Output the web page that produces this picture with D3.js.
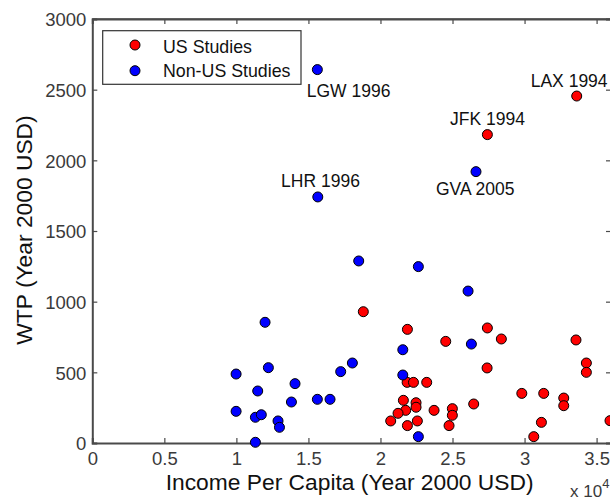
<!DOCTYPE html>
<html>
<head>
<meta charset="utf-8">
<script src="https://cdn.jsdelivr.net/npm/d3@7"></script>
<style>
body { margin: 0; background: #fff; }
text { font-family: "Liberation Sans", Arial, sans-serif; }
</style>
</head>
<body>
<svg width="610" height="500"></svg>
<script>
// US studies: income per capita (USD 2000) and WTP
const usIncome = [18810, 21870, 27420, 28390, 24530, 33570, 34290, 34290, 27400,
  21850, 22290, 23210, 21590, 22470, 22470, 21750, 21220, 20710, 21870, 22560,
  23720, 24990, 24990, 24760, 26470, 29810, 31330, 32720, 32720, 31170, 30640,
  35930, 27420, 33620];
const usWTP = [929, 804, 814, 736, 719, 729, 566, 500, 531,
  429, 429, 429, 302, 285, 253, 231, 210, 156, 123, 156,
  231, 243, 196, 123, 276, 351, 351, 318, 264, 146, 45,
  158, 2182, 2455];

// Non-US studies
const nonUsIncome = [18490, 11990, 9980, 12220, 11480, 14070, 9980, 11320, 11730,
  13820, 12890, 12990, 11320, 15620, 16500, 17240, 18050, 21550, 21550, 22630,
  26080, 26310, 22630, 15620, 15650, 26630];
const nonUsWTP = [1288, 854, 488, 533, 368, 420, 224, 182, 200,
  290, 156, 111, 5, 309, 309, 505, 566, 660, 481, 1248,
  1075, 700, 45, 2642, 1741, 1920];

const xTicks = [0, 5000, 10000, 15000, 20000, 25000, 30000, 35000];
const yTicks = [0, 500, 1000, 1500, 2000, 2500, 3000];

// labelled airports: series, index in series, text
const labelSeries = ["non", "non", "us", "non", "us"];
const labelIndex = [23, 24, 32, 25, 33];
const labelText = ["LGW 1996", "LHR 1996", "JFK 1994", "GVA 2005", "LAX 1994"];
const labelOffset = [[-10.6, 27.4], [-36.7, -9.7], [-37.3, -9.7], [-40, 23.3], [-46, -8.7]];

const svg = d3.select("svg");
const pLeft = 92.3, pRight = 611, pTop = 19, pBottom = 443;

const x = d3.scaleLinear().domain([0, 36000]).range([pLeft, pRight]);
const y = d3.scaleLinear().domain([0, 3000]).range([pBottom, pTop]);

const axisColor = "#4a4a4a";
const tickLen = 5;

// box lines
svg.append("line").attr("x1", pLeft).attr("x2", pRight).attr("y1", pTop).attr("y2", pTop)
  .attr("stroke", axisColor).attr("stroke-width", 1.3);
svg.append("line").attr("x1", pRight).attr("x2", pRight).attr("y1", pTop).attr("y2", pBottom)
  .attr("stroke", axisColor).attr("stroke-width", 1.3);

const xAxis = d3.axisBottom(x).tickValues(xTicks).tickSize(-tickLen).tickPadding(9)
  .tickFormat(d => d === 0 ? "0" : d3.format("")(d / 10000));
const gx = svg.append("g").attr("transform", "translate(0," + pBottom + ")").call(xAxis);

const yAxis = d3.axisLeft(y).tickValues(yTicks).tickSize(-tickLen).tickPadding(6)
  .tickFormat(d3.format("d"));
const gy = svg.append("g").attr("transform", "translate(" + pLeft + ",0)").call(yAxis);

// top and right ticks
svg.append("g").attr("transform", "translate(0," + pTop + ")")
  .call(d3.axisTop(x).tickValues(xTicks).tickSize(-tickLen).tickFormat(""));
svg.append("g").attr("transform", "translate(" + pRight + ",0)")
  .call(d3.axisRight(y).tickValues(yTicks).tickSize(-tickLen).tickFormat(""));

svg.selectAll(".domain").attr("stroke", axisColor).attr("stroke-width", 2);
svg.selectAll(".tick line").attr("stroke", axisColor).attr("stroke-width", 1.2);
svg.selectAll(".tick text").attr("font-size", 18.5).attr("fill", "#3a3a3a")
  .attr("font-family", "Liberation Sans, Arial, sans-serif");
gy.selectAll(".tick text").attr("dy", "0.36em");

// exponent label
const ex = svg.append("text").attr("x", 570).attr("y", 497).attr("font-size", 17).attr("fill", "#3a3a3a");
ex.append("tspan").text("x 10");
ex.append("tspan").attr("dy", -9).attr("font-size", 13).text("4");

// axis titles
svg.append("text").attr("x", (pLeft + pRight) / 2 - 2).attr("y", 490)
  .attr("text-anchor", "middle").attr("font-size", 22.8).attr("fill", "#111")
  .text("Income Per Capita (Year 2000 USD)");
svg.append("text").attr("transform", "translate(32," + ((pTop + pBottom) / 2 - 1) + ") rotate(-90)")
  .attr("text-anchor", "middle").attr("font-size", 22.8).attr("fill", "#111")
  .text("WTP (Year 2000 USD)");

// points
const r = 5;
const usPts = usIncome.map((d, i) => [d, usWTP[i]]);
const nonPts = nonUsIncome.map((d, i) => [d, nonUsWTP[i]]);

svg.append("g").selectAll("circle").data(usPts).enter().append("circle")
  .attr("cx", d => x(d[0])).attr("cy", d => y(d[1])).attr("r", r)
  .attr("fill", "#ff0000").attr("stroke", "#000").attr("stroke-width", 1);
svg.append("g").selectAll("circle").data(nonPts).enter().append("circle")
  .attr("cx", d => x(d[0])).attr("cy", d => y(d[1])).attr("r", r)
  .attr("fill", "#0000ff").attr("stroke", "#000").attr("stroke-width", 1);

// point labels
labelText.forEach((t, i) => {
  const p = labelSeries[i] === "us" ? usPts[labelIndex[i]] : nonPts[labelIndex[i]];
  svg.append("text").attr("x", x(p[0]) + labelOffset[i][0]).attr("y", y(p[1]) + labelOffset[i][1])
    .attr("font-size", 17.5).attr("fill", "#111").text(t);
});

// legend
const lg = svg.append("g");
lg.append("rect").attr("x", 102.7).attr("y", 30.7).attr("width", 198.3).attr("height", 53.6)
  .attr("fill", "#fff").attr("stroke", "#333").attr("stroke-width", 1.2);
const legendNames = ["US Studies", "Non-US Studies"];
const legendColors = ["#ff0000", "#0000ff"];
legendNames.forEach((n, i) => {
  lg.append("circle").attr("cx", 135).attr("cy", 45 + i * 25.7).attr("r", r)
    .attr("fill", legendColors[i]).attr("stroke", "#000").attr("stroke-width", 1);
  lg.append("text").attr("x", 163).attr("y", 52.5 + i * 24.2)
    .attr("font-size", 17.8).attr("fill", "#111").text(n);
});
</script>
</body>
</html>
